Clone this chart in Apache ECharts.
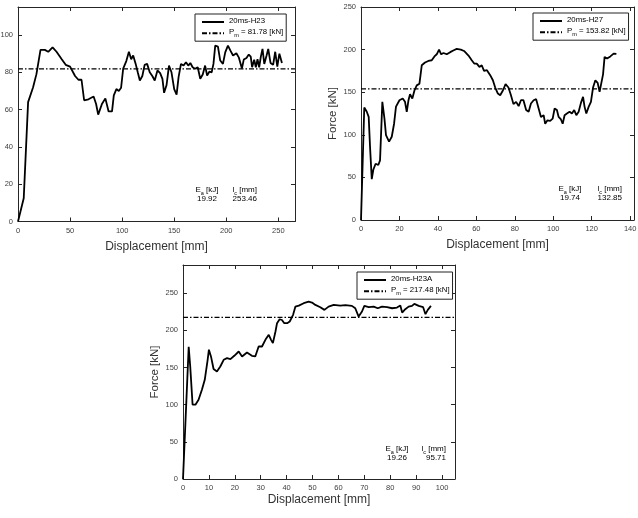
<!DOCTYPE html>
<html>
<head>
<meta charset="utf-8">
<script src="https://cdn.jsdelivr.net/npm/echarts@6/dist/echarts.min.js"></script>
<style>
  html, body { margin: 0; padding: 0; background: #fff; }
  #chart { width: 638px; height: 518px; }
</style>
</head>
<body>
<div id="chart"></div>
<script>
// test names and mean forces
const tests = ['20ms-H23', '20ms-H27', '20ms-H23A'];
const meanForce = [81.78, 153.82, 217.48];
const energy = ['19.92', '19.74', '19.26'];
const crushLen = ['253.46', '132.85', '95.71'];

// axis ranges (x mm, y kN)
const xMax = [266, 142, 105];
const xStep = [50, 20, 10];
const yMax = [115, 250, 288];
const yStep = [20, 50, 50];

// 20ms-H23
const h23Disp = [0, 5.5, 9.7, 14.5, 17.7, 21.6, 25.8, 29, 33.2, 37, 42, 45.8, 50, 54.8, 58, 61, 63.5, 67.7, 72.6, 75, 77,
  80.6, 83.9, 87, 90.3, 92, 94.5, 96.8, 99, 101, 104, 106.5, 108.7, 110.6, 113, 115, 117, 119.4, 121.6, 124, 126.5,
  129, 131.3, 133.9, 136.5, 138.7, 140.3, 142.6, 145, 147.4, 150, 152.3, 154.2, 156.5, 159, 161.3, 163.5, 165.5,
  167.7, 170, 172.6, 175, 177.4, 179.7, 181.6, 183.9, 186, 187.7, 189.4, 192, 194.2, 196.8, 199, 201.6, 204, 206.5,
  209.7, 212, 213.9, 215, 216.8, 219.4, 221.6, 223.5, 224.8, 226.8, 228.4, 230, 231.6, 233.2, 234.8, 236.5, 238.7,
  240.3, 242.5, 245, 247, 249, 251, 253.46];
const h23Force = [0, 12.5, 64, 72, 79, 92, 92, 91, 93.4, 91, 87, 84, 83, 78, 76, 76, 65, 65.5, 67, 63, 57.3,
  63, 66, 59, 59, 67.6, 71, 70, 71.7, 82, 86, 91, 87, 89, 84.5, 80, 75.6, 78, 84, 84.5, 80,
  78, 75.6, 81, 79.5, 76.5, 69, 73, 83.6, 80, 71, 68, 77.4, 84.5, 83.6, 85.4, 83.6, 85,
  82.7, 81.9, 82.7, 76.5, 78.8, 83.6, 78.3, 80.4, 80, 84.5, 94.3, 93.8, 86.3, 84.5, 90.7, 94.3, 91.6, 89,
  90.2, 88, 87, 82, 86.8, 87.7, 89.5, 88.4, 82.7, 86.7, 82.7, 87, 82.7, 88.4, 92.5, 84.5, 89,
  92.5, 85, 84, 91, 83, 90, 85];

// 20ms-H27
const h27Disp = [0, 1.7, 3, 4, 4.7, 5.6, 6.4, 7.6, 9, 9.9, 11.1, 12.2, 13, 14.6, 16, 17.2, 18.2, 20, 21.7, 22.9,
  23.8, 24.7, 25.5, 26.7, 27.8, 29, 30.4, 31.6, 33.3, 35, 36.8, 38.2, 39.4, 40.6, 41.7, 42.9, 44.6, 46.4, 48,
  49.8, 51.9, 53.6, 55.9, 57.6, 58.9, 60.2, 61.6, 62.8, 64, 65.5, 67.2, 68.6, 69.8, 71.2, 72.4, 73.8, 75.2,
  76.7, 78, 79.3, 80.7, 82, 83.2, 84.5, 85.9, 87.2, 88.4, 89.8, 91.1, 92.4, 93.6, 95, 95.8, 97, 98.4, 99.7,
  100.7, 101.9, 102.8, 104, 104.9, 105.9, 107.1, 108.5, 109.7, 110.9, 112, 113.2, 114.4, 115.5, 116.3, 117.2,
  118.4, 119.6, 120.7, 121.9, 123.1, 124.1, 124.8, 125.9, 126.7, 128, 128.8, 129.7, 130.6, 131.4, 132.3, 132.85];
const h27Force = [0, 132, 127, 121, 86, 48, 59, 66, 64.5, 70, 138.7, 119, 99.6, 92, 97.7, 113, 133, 140.6, 142.6, 138.7,
  127, 140.6, 147.6, 142.6, 152, 158, 160, 181.6, 184.8, 186.7, 187.5, 192, 194.5, 200, 194.5, 196, 194.5, 197, 199,
  200.8, 200, 198.4, 193, 187.5, 183.6, 183.6, 179.7, 181.6, 175, 175.8, 170, 164, 155.5, 148.4, 146.5, 152, 159.4,
  155.5, 146.5, 136, 138.7, 133.6, 140.6, 140.6, 129, 127, 136.7, 140.6, 141.8, 130.9, 121, 123, 113, 117, 116.4, 119,
  130.9, 129, 121, 118, 113, 123, 125, 127, 125, 129, 123, 127, 137.5, 144.5, 132.8, 125,
  132.8, 138.7, 155.5, 164, 161, 150.4, 148.4, 171, 191.4, 189.5, 187.5, 192, 190, 195.3, 193.4, 195];

// 20ms-H23A
const h23aDisp = [0, 2.2, 2.8, 3.7, 4.8, 6, 7.3, 8.4, 9.5, 10, 10.8, 11.8, 13.1, 14.4, 15.7, 17, 18.3, 19.8, 21.5,
  22.8, 24.7, 26.6, 27.9, 29.2, 30.5, 31.8, 33.1, 34, 34.7, 35.7, 36.3, 37.3, 38.2, 39.1, 40.2, 41.2, 42.5, 43.4,
  44.7, 46.6, 48.5, 49.8, 51.1, 53, 54.6, 56.2, 58.2, 60.7, 62.7, 65.2, 66.5, 67.8, 69.1, 70, 71.7, 73.6, 75.2,
  76.8, 78.8, 80.7, 82.6, 83.9, 84.6, 85.8, 87.1, 88.4, 89.3, 91, 92.7, 93.6, 94.5, 95.71];
const h23aForce = [0, 178, 151, 100, 100, 106.6, 120, 133.5, 160, 174, 165, 148, 144.7, 151.4, 160.4, 162.6, 161.3, 165.8, 171.6,
  164.9, 170.3, 165.8, 164.9, 178.3, 178.3, 187.3, 194, 187.3, 182.8, 198.5, 209.7, 215, 214, 209.7, 209.7, 212, 220.9, 232,
  233.4, 236.6, 238.8, 237.5, 234.3, 231.2, 227.6, 232, 234.3, 233.4, 233.9, 233, 229.8, 218.6, 225.4, 233, 231.2, 232, 229.8,
  232, 231.2, 229.8, 230.7, 233.4, 224, 228.5, 232, 233, 235.7, 233, 231.2, 221.8, 227.6, 233];

const dispSets = [h23Disp, h27Disp, h23aDisp];
const forceSets = [h23Force, h27Force, h23aForce];

// layout of the three panels
const grids = [
  { left: 18, top: 7, width: 277, height: 214.5, outerBoundsMode: 'none' },
  { left: 361, top: 7, width: 273, height: 213, outerBoundsMode: 'none' },
  { left: 183, top: 265, width: 272, height: 214, outerBoundsMode: 'none' }
];
const legendPos = [[195, 14], [533, 13], [357, 272]];
const notePos = [[207, 257, 187], [570, 622, 186], [397, 446, 446]];
const xNameGap = [19, 19, 15];

const axisColor = '#262626';
const font = 'Liberation Sans, Arial, Helvetica, sans-serif';
const dashDot = [5, 2, 1.5, 2];

const rich = {
  t: { fontSize: 7.8, fontFamily: font, color: '#000', padding: [0, 0, 2, 0], verticalAlign: 'bottom' },
  s: { fontSize: 5.5, fontFamily: font, color: '#000', verticalAlign: 'bottom' }
};
const noteRich = {
  t: { fontSize: 8, fontFamily: font, color: '#111', padding: [0, 0, 2, 0], verticalAlign: 'bottom', lineHeight: 9 },
  s: { fontSize: 5.5, fontFamily: font, color: '#111', verticalAlign: 'bottom', lineHeight: 9 }
};

const pmName = (i) => 'P_m = ' + meanForce[i].toFixed(2) + ' [kN]';

const xAxes = [], yAxes = [], series = [], legends = [], graphics = [];

grids.forEach((g, i) => {
  const common = {
    gridIndex: i,
    type: 'value',
    min: 0,
    axisLine: { show: true, onZero: false, lineStyle: { color: axisColor, width: 1 } },
    axisTick: { show: true, inside: true, length: 4, lineStyle: { color: axisColor } },
    splitLine: { show: false }
  };
  xAxes.push({
    ...common, position: 'bottom', max: xMax[i], interval: xStep[i],
    axisLabel: {
      show: true, fontSize: 7.5, color: '#404040', fontFamily: font, margin: 5,
      showMaxLabel: xMax[i] % xStep[i] === 0
    },
    name: 'Displacement [mm]', nameLocation: 'middle', nameGap: xNameGap[i],
    nameTextStyle: { fontSize: 12, color: '#333', fontFamily: font }
  });
  xAxes.push({ ...common, position: 'top', max: xMax[i], interval: xStep[i], axisLabel: { show: false } });
  yAxes.push({
    ...common, position: 'left', max: yMax[i], interval: yStep[i],
    axisLabel: {
      show: true, fontSize: 7.5, color: '#404040', fontFamily: font, margin: 5,
      showMaxLabel: yMax[i] % yStep[i] === 0
    },
    name: i === 0 ? '' : 'Force [kN]', nameLocation: 'middle', nameGap: 22,
    nameTextStyle: { fontSize: 11.5, color: '#333', fontFamily: font }
  });
  yAxes.push({ ...common, position: 'right', max: yMax[i], interval: yStep[i], axisLabel: { show: false } });

  series.push({
    name: tests[i],
    type: 'line',
    xAxisIndex: 2 * i,
    yAxisIndex: 2 * i,
    data: dispSets[i].map((d, k) => [d, forceSets[i][k]]),
    symbol: 'none',
    lineStyle: { color: '#000', width: 1.8 },
    itemStyle: { color: '#000' },
    z: 3
  });
  series.push({
    name: pmName(i),
    type: 'line',
    xAxisIndex: 2 * i,
    yAxisIndex: 2 * i,
    data: [[0, meanForce[i]], [xMax[i], meanForce[i]]],
    symbol: 'none',
    lineStyle: { color: '#000', width: 1.3, type: dashDot },
    itemStyle: { color: '#000' },
    z: 2
  });

  legends.push({
    data: [tests[i], pmName(i)],
    orient: 'vertical',
    left: legendPos[i][0],
    top: legendPos[i][1],
    padding: [3, 3, 3, 6],
    itemGap: 3,
    itemWidth: 22,
    itemHeight: 8,
    backgroundColor: '#fff',
    borderColor: '#222',
    borderWidth: 1,
    selectedMode: false,
    itemStyle: { opacity: 0 },
    textStyle: { rich: rich },
    formatter: (name) => name.indexOf('P_m') === 0
      ? '{t|P}{s|m}{t|' + name.slice(3) + '}'
      : '{t|' + name + '}'
  });

  const [cx, rx, ty] = notePos[i];
  graphics.push({
    type: 'text', x: cx, y: ty,
    style: {
      text: '{t|E}{s|a}{t| [kJ]}\n{t|' + energy[i] + '}',
      rich: noteRich, align: 'center', textAlign: 'center', verticalAlign: 'top', textVerticalAlign: 'top'
    }
  });
  graphics.push({
    type: 'text', x: rx, y: ty,
    style: {
      text: '{t|l}{s|c}{t| [mm]}\n{t|' + crushLen[i] + '}',
      rich: noteRich, align: 'right', textAlign: 'right', verticalAlign: 'top', textVerticalAlign: 'top'
    }
  });
});

const chart = echarts.init(document.getElementById('chart'));
chart.setOption({
  backgroundColor: '#fff',
  animation: false,
  grid: grids,
  xAxis: xAxes,
  yAxis: yAxes,
  legend: legends,
  series: series,
  graphic: graphics
});
</script>
</body>
</html>
